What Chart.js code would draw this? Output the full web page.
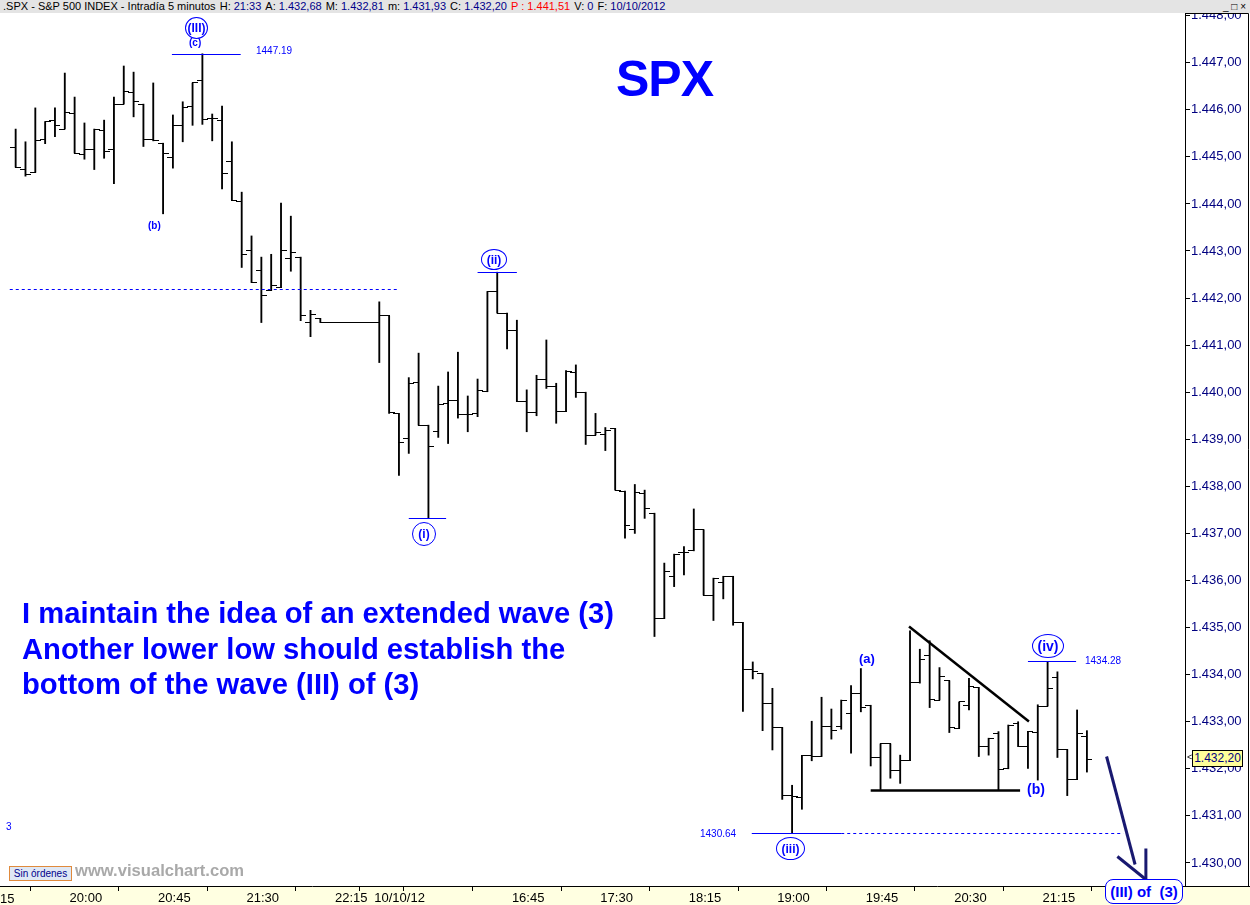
<!DOCTYPE html>
<html>
<head>
<meta charset="utf-8">
<script src="https://cdn.jsdelivr.net/npm/chart.js@4.4.1/dist/chart.umd.min.js"></script>
<style>
    body { margin: 0; background: #fff; }
    #wrap { position: relative; width: 1250px; height: 905px; overflow: hidden; font-family: "Liberation Sans", Arial, sans-serif; }
    #chart { position: absolute; left: 0; top: 0; }
    .hdr { position: absolute; left: 0; top: 0; width: 1250px; height: 13px; background: #e4e4e4; font-size: 11px; line-height: 13px; white-space: nowrap; color: #000; }
    .hdr span.v { color: #00008b; }
    .hdr span.r { color: #ff0000; margin-left: 1px; }
    .hdr span.k { margin-left: 1px; }
    .hdr .btn { position: absolute; right: 4px; top: 0; font-size: 10px; }
    .t { position: absolute; color: #0000ff; white-space: nowrap; }
    .circ { position: absolute; border: 1px solid #0000ff; border-radius: 50%; color: #0000ff; font-weight: bold; font-size: 12px; display: flex; align-items: center; justify-content: center; box-sizing: border-box; }
    .lbl { position: absolute; color: #0000ff; font-size: 10px; transform: translateY(-50%); }
    .b { font-weight: bold; }
</style>
</head>
<body>
<div id="wrap">
    <canvas id="chart" width="1250" height="905"></canvas>
    <div class="hdr">&nbsp;.SPX - S&amp;P 500 INDEX - Intradía 5 minutos <span class="k">H:</span> <span class="v">21:33</span> <span class="k">A:</span> <span class="v">1.432,68</span> <span class="k">M:</span> <span class="v">1.432,81</span> <span class="k">m:</span> <span class="v">1.431,93</span> <span class="k">C:</span> <span class="v">1.432,20</span> <span class="r">P : 1.441,51</span> <span class="k">V:</span> <span class="v">0</span> <span class="k">F:</span> <span class="v">10/10/2012</span><span class="btn">_ □ ×</span></div>

    <div class="t b" style="left:616px;top:50px;font-size:50px;letter-spacing:-1px;">SPX</div>
    <div class="t b" style="left:22px;top:596px;font-size:29.2px;line-height:35.5px;">I maintain the idea of an extended wave (3)<br>Another lower low should establish the<br>bottom of the wave (III) of (3)</div>

    <div class="circ" style="left:185px;top:17px;width:23px;height:22px;">(III)</div>
    <div class="t b" style="left:189px;top:37px;font-size:10px;">(c)</div>
    <div class="lbl" style="left:256px;top:50px;">1447.19</div>
    <div class="t b" style="left:148px;top:220px;font-size:10px;">(b)</div>
    <div class="circ" style="left:481px;top:249px;width:26px;height:21px;">(ii)</div>
    <div class="circ" style="left:412px;top:522px;width:24px;height:24px;">(i)</div>
    <div class="circ" style="left:776px;top:837px;width:29px;height:23px;">(iii)</div>
    <div class="lbl" style="left:700px;top:833px;">1430.64</div>
    <div class="t b" style="left:859px;top:651px;font-size:13px;">(a)</div>
    <div class="circ" style="left:1032px;top:634px;width:32px;height:24px;font-size:14px;">(iv)</div>
    <div class="lbl" style="left:1085px;top:660px;">1434.28</div>
    <div class="t b" style="left:1027px;top:781px;font-size:14px;">(b)</div>
    <div class="t" style="left:6px;top:821px;font-size:10px;">3</div>

    <div class="t" style="left:0px;top:891px;font-size:13px;color:#000;">15</div>
    <div style="position:absolute;left:1105px;top:879px;width:78px;height:25px;box-sizing:border-box;border:1px solid #0000ff;border-radius:8px;background:#fff;color:#0000ff;font-weight:bold;font-size:15px;line-height:23px;text-align:center;white-space:pre;">(III) of  (3)</div>

    <div style="position:absolute;left:1187px;top:752px;font-size:9px;color:#000;">&lt;</div>
    <div style="position:absolute;left:1192px;top:750px;width:51px;height:17px;box-sizing:border-box;border:1px solid #000;background:#ffff99;color:#000080;font-size:12px;line-height:15px;text-align:center;">1.432,20</div>

    <div style="position:absolute;left:9px;top:866px;width:63px;height:15px;box-sizing:border-box;border:1px solid #e08a3c;background:#dfe8f5;color:#00008b;font-size:10px;line-height:13px;text-align:center;">Sin órdenes</div>
    <div class="t b" style="left:75px;top:861px;font-size:16.6px;color:#a9a9a9;">www.visualchart.com</div>
</div>

<script>
// barras de 5 minutos: dia 9/10 desde las 19:30, dia 10/10 desde las 15:35
const opens = [
    1445.20, 1444.74, 1444.67, 1445.37, 1445.78, 1445.59, 1445.93, 1445.04, 1445.16, 1445.57,
    1445.15, 1446.12, 1446.36, 1446.12, 1445.36, 1445.29, 1444.99, 1445.67, 1446.08, 1446.63,
    1445.82, 1445.78, 1444.91, 1444.06, 1443.00, 1442.59, 1442.16, 1442.23, 1442.83, 1442.87,
    1441.48, 1441.57, 1441.48, 1441.48, 1441.48, 1441.48, 1441.48, 1441.48, 1441.62, 1439.55,
    1439.02, 1440.21, 1439.30, 1439.17, 1439.76, 1439.82, 1439.52, 1439.55, 1440.01, 1442.13,
    1441.68, 1441.31, 1439.80, 1439.57, 1440.28, 1440.13, 1439.59, 1440.41, 1440.00, 1439.09,
    1439.11, 1439.23, 1437.90, 1437.09, 1437.85, 1437.43, 1435.19, 1436.09, 1436.60, 1436.63,
    1437.08, 1435.68, 1435.96, 1436.09, 1435.11, 1434.10, 1434.03, 1433.39, 1432.88, 1431.43,
    1431.40, 1432.28, 1432.26, 1432.90, 1432.89, 1433.18, 1433.59, 1433.35, 1432.23, 1432.53,
    1431.97, 1432.17, 1433.84, 1434.40, 1433.46, 1433.87, 1432.86, 1433.35, 1433.73, 1432.47,
    1432.74, 1432.00, 1432.97, 1432.47, 1432.77, 1433.33, 1433.94, 1432.41, 1431.77, 1432.68
];
const highs = [
    1445.59, 1445.32, 1446.04, 1445.75, 1446.04, 1446.78, 1446.27, 1445.72, 1445.59, 1445.78,
    1446.27, 1446.93, 1446.80, 1446.12, 1446.57, 1445.29, 1445.89, 1446.17, 1446.57, 1447.19,
    1445.91, 1446.08, 1445.32, 1444.25, 1443.32, 1442.87, 1442.93, 1444.02, 1443.74, 1442.87,
    1441.74, 1441.57, 1441.48, 1441.48, 1441.48, 1441.48, 1441.48, 1441.92, 1441.62, 1439.55,
    1440.31, 1440.83, 1439.30, 1440.13, 1440.43, 1440.85, 1439.92, 1440.28, 1442.14, 1442.55,
    1441.68, 1441.53, 1440.05, 1440.36, 1441.11, 1440.19, 1440.46, 1440.58, 1440.00, 1439.55,
    1439.25, 1439.23, 1437.90, 1438.04, 1437.92, 1437.43, 1436.37, 1436.56, 1436.72, 1437.52,
    1437.08, 1436.05, 1436.09, 1436.09, 1435.11, 1434.27, 1434.03, 1433.71, 1432.88, 1431.65,
    1432.28, 1433.01, 1433.52, 1433.27, 1433.46, 1433.77, 1434.13, 1433.35, 1432.53, 1432.53,
    1432.29, 1434.93, 1434.54, 1434.72, 1434.15, 1433.87, 1433.42, 1433.92, 1433.73, 1432.65,
    1432.79, 1432.93, 1433.00, 1432.79, 1433.36, 1434.28, 1434.06, 1432.41, 1433.25, 1432.81
];
const lows = [
    1444.78, 1444.59, 1444.67, 1445.28, 1445.43, 1445.59, 1445.08, 1444.95, 1444.73, 1444.97,
    1444.43, 1446.12, 1445.85, 1445.22, 1445.34, 1443.79, 1444.76, 1445.32, 1445.67, 1445.69,
    1445.34, 1444.32, 1444.08, 1442.65, 1442.33, 1441.48, 1442.16, 1442.23, 1442.57, 1441.52,
    1441.18, 1441.48, 1441.48, 1441.48, 1441.48, 1441.48, 1441.48, 1440.63, 1439.55, 1438.23,
    1438.70, 1439.30, 1437.32, 1439.04, 1438.91, 1439.45, 1439.16, 1439.48, 1440.01, 1441.68,
    1440.92, 1439.80, 1439.16, 1439.50, 1440.08, 1439.34, 1439.59, 1439.89, 1438.89, 1439.09,
    1438.76, 1437.92, 1436.90, 1437.00, 1437.32, 1434.81, 1435.19, 1435.87, 1436.12, 1436.63,
    1435.69, 1435.15, 1435.61, 1435.05, 1433.22, 1433.91, 1432.81, 1432.40, 1431.35, 1430.64,
    1431.14, 1432.17, 1432.26, 1432.63, 1432.84, 1432.33, 1433.21, 1432.06, 1431.56, 1431.80,
    1431.69, 1432.17, 1433.82, 1433.30, 1433.46, 1432.77, 1432.86, 1433.25, 1432.26, 1432.29,
    1431.55, 1432.00, 1432.47, 1432.01, 1431.76, 1433.33, 1432.24, 1431.43, 1431.77, 1431.93
];
const closes = [
    1444.78, 1444.63, 1445.34, 1445.75, 1445.66, 1445.95, 1445.08, 1445.16, 1445.59, 1445.12,
    1446.12, 1446.38, 1446.17, 1445.36, 1445.34, 1445.08, 1445.67, 1446.04, 1446.57, 1445.80,
    1445.81, 1444.65, 1444.08, 1442.93, 1442.33, 1442.06, 1442.27, 1443.02, 1442.97, 1441.63,
    1441.66, 1441.48, 1441.48, 1441.48, 1441.48, 1441.48, 1441.48, 1441.63, 1439.57, 1438.94,
    1440.19, 1439.30, 1438.84, 1439.73, 1439.82, 1439.52, 1439.53, 1440.04, 1442.13, 1441.68,
    1441.31, 1439.80, 1439.57, 1440.27, 1440.13, 1439.59, 1440.44, 1440.00, 1439.08, 1439.15,
    1439.19, 1437.92, 1437.16, 1437.87, 1437.52, 1435.20, 1436.19, 1436.56, 1436.60, 1437.09,
    1435.69, 1436.05, 1436.09, 1435.11, 1434.11, 1434.06, 1433.39, 1432.88, 1431.43, 1431.41,
    1432.28, 1432.26, 1432.89, 1432.81, 1433.46, 1433.59, 1433.31, 1432.24, 1432.53, 1431.97,
    1432.17, 1433.84, 1434.33, 1433.48, 1433.97, 1432.87, 1433.42, 1433.74, 1432.47, 1432.65,
    1431.99, 1432.93, 1432.47, 1432.79, 1433.33, 1433.71, 1432.41, 1431.78, 1432.75, 1432.20
];

// marcas del eje de tiempo (indice de barra)
const timeTicks = [6, 15, 24, 33, 37, 42, 51, 60, 69, 78, 87, 96, 105, 114];
const timeLabels = ['20:00', '20:45', '21:30', '22:15', '10/10/12', '', '16:45', '17:30', '18:15', '19:00', '19:45', '20:30', '21:15', '22:00'];
const priceTicks = [1430, 1431, 1432, 1433, 1434, 1435, 1436, 1437, 1438, 1439, 1440, 1441, 1442, 1443, 1444, 1445, 1446, 1447, 1448];

// lineas del analisis: [x1, precio1, x2, precio2]
const waveLines = [
    [15.9, 1447.19, 22.9, 1447.19],
    [47.0, 1442.55, 51.0, 1442.55],
    [40.0, 1437.32, 43.8, 1437.32],
    [74.9, 1430.64, 84.0, 1430.64],
    [103.0, 1434.28, 107.9, 1434.28]
];
const dashedLines = [
    [-0.6, 1442.19, 38.9, 1442.19],
    [84.0, 1430.64, 112.7, 1430.64]
];
const triangleLines = [
    [90.9, 1435.03, 103.1, 1433.01],
    [87.0, 1431.55, 102.2, 1431.55]
];
const arrowLines = [
    [111.0, 1432.27, 113.9, 1429.98],
    [112.1, 1430.15, 115.0, 1429.66],
    [115.0, 1430.32, 115.0, 1429.66]
];

function tickImage(left) {
    const c = document.createElement('canvas');
    c.width = 11;
    c.height = 3;
    const g = c.getContext('2d');
    g.fillStyle = '#000';
    g.fillRect(left ? 0 : 5, 1, 6, 1);
    return c;
}

function fmtPrice(v) {
    const s = v.toFixed(2).replace('.', ',');
    return s.replace(/^(\d)(\d{3})/, '$1.$2');
}

const bgPlugin = {
    id: 'bg',
    beforeDraw(chart) {
        const { ctx, chartArea: a, width, height } = chart;
        ctx.save();
        ctx.fillStyle = '#fff';
        ctx.fillRect(0, 0, width, height);
        ctx.fillStyle = '#ffffe1';
        ctx.fillRect(0, a.bottom, width, height - a.bottom);
        ctx.restore();
    },
    beforeDatasetsDraw(chart) {
        chart.ctx.imageSmoothingEnabled = false;
    },
    afterDraw(chart) {
        const { ctx, chartArea: a, width } = chart;
        ctx.save();
        ctx.strokeStyle = '#000';
        ctx.lineWidth = 1;
        ctx.beginPath();
        ctx.moveTo(0, a.bottom + 0.5);
        ctx.lineTo(width, a.bottom + 0.5);
        ctx.moveTo(a.right + 0.5, a.top + 0.5);
        ctx.lineTo(width - 1.5, a.top + 0.5);
        ctx.lineTo(width - 1.5, a.bottom);
        ctx.stroke();
        ctx.restore();
    }
};

const wavePlugin = {
    id: 'waves',
    afterDatasetsDraw(chart) {
        const { ctx, scales: { x, y } } = chart;
        const draw = (list, color, width, dash) => {
            ctx.save();
            ctx.strokeStyle = color;
            ctx.lineWidth = width;
            ctx.setLineDash(dash);
            list.forEach(l => {
                ctx.beginPath();
                ctx.moveTo(x.getPixelForValue(l[0]), Math.round(y.getPixelForValue(l[1])) + 0.5);
                ctx.lineTo(x.getPixelForValue(l[2]), Math.round(y.getPixelForValue(l[3])) + 0.5);
                ctx.stroke();
            });
            ctx.restore();
        };
        draw(waveLines, '#0000ff', 1, []);
        draw(dashedLines, '#0000ff', 1, [3, 3]);
        draw(triangleLines, '#000', 2.5, []);
        draw(arrowLines, '#191970', 3, []);
    }
};

const idx = highs.map((h, i) => i);

new Chart(document.getElementById('chart'), {
    type: 'bar',
    data: {
        datasets: [
            {
                type: 'bar',
                data: idx.map(i => ({ x: i, y: [lows[i], highs[i]] })),
                backgroundColor: '#000',
                borderWidth: 0,
                barThickness: 1.2
            },
            {
                type: 'scatter',
                data: idx.map(i => ({ x: i, y: opens[i] })),
                pointStyle: tickImage(true)
            },
            {
                type: 'scatter',
                data: idx.map(i => ({ x: i, y: closes[i] })),
                pointStyle: tickImage(false)
            }
        ]
    },
    options: {
        responsive: false,
        animation: false,
        layout: { padding: { top: 13, right: 1, left: 0, bottom: 0 } },
        plugins: { legend: { display: false }, tooltip: { enabled: false } },
        scales: {
            x: {
                type: 'linear',
                min: -1.084,
                max: 118.98,
                offset: false,
                grid: { drawOnChartArea: false, tickLength: 5, tickColor: '#000' },
                border: { display: false },
                afterBuildTicks: axis => { axis.ticks = timeTicks.map(v => ({ value: v })); },
                afterFit: axis => { axis.height = 19; },
                ticks: {
                    autoSkip: false,
                    maxRotation: 0,
                    align: 'start',
                    labelOffset: -5,
                    padding: 0,
                    color: '#000',
                    font: { family: 'Liberation Sans', size: 13 },
                    callback: v => timeLabels[timeTicks.indexOf(v)]
                }
            },
            y: {
                position: 'right',
                min: 1429.51,
                max: 1448.056,
                grid: { drawOnChartArea: false, tickLength: 5, tickColor: '#000' },
                border: { display: true, color: '#000' },
                afterBuildTicks: axis => { axis.ticks = priceTicks.map(v => ({ value: v })); },
                afterFit: axis => { axis.width = 64; },
                ticks: {
                    padding: 1,
                    color: '#000080',
                    font: { family: 'Liberation Sans', size: 13 },
                    callback: v => fmtPrice(v)
                }
            }
        }
    },
    plugins: [bgPlugin, wavePlugin]
});
</script>
</body>
</html>
